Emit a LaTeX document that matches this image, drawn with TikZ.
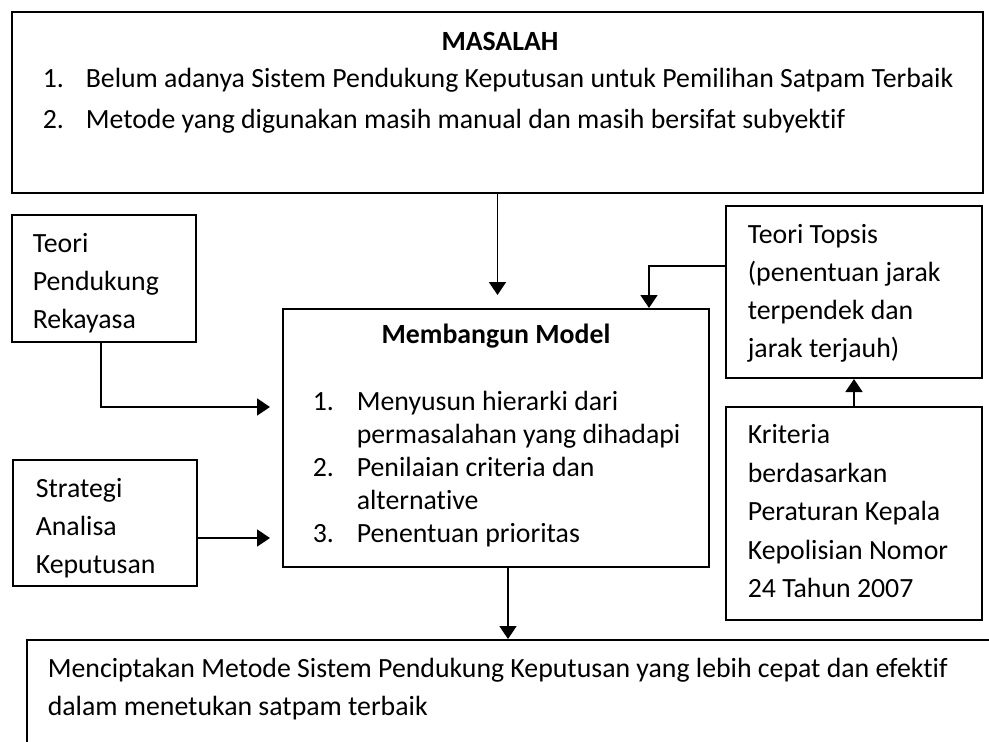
\documentclass[tikz,border=0pt]{standalone}
\usepackage{fontspec}
\setmainfont{Carlito}[Ligatures=NoCommon]
\usetikzlibrary{arrows.meta,calc}

\begin{document}
\begin{tikzpicture}[x=1pt,y=-1pt,>={Triangle[width=17pt,length=13pt]},line width=1.6pt,
    box/.style={draw,line width=2pt,inner sep=0pt},
    txt/.style={anchor=north west,inner sep=0pt,align=left,font=\fontsize{27.8}{#1}\selectfont},
    txt/.default=38,
    judul/.style={anchor=base,inner sep=0pt,font=\fontsize{27.8}{33}\selectfont\bfseries}]

    \useasboundingbox (0,0) rectangle (989,742);
    \clip (0,0) rectangle (989,742);

    \node[box, minimum width=971pt, minimum height=181pt] (masalah) at (497.5,102.5) {};
    \node[box, minimum width=184pt, minimum height=127pt] (teori) at (104,278.5) {};
    \node[box, minimum width=184pt, minimum height=126pt] (strategi) at (105,523) {};
    \node[box, minimum width=426pt, minimum height=258pt] (model) at (496,438) {};
    \node[box, minimum width=256pt, minimum height=172pt] (topsis) at (854,292) {};
    \node[box, minimum width=256pt, minimum height=213pt] (kriteria) at (854,513.5) {};
    \node[box, minimum width=983pt, minimum height=130pt] (hasil) at (518.5,705) {};

    \node[judul] (masalah-judul) at (500,50) {MASALAH};
    \node[txt=41] (masalah-no) at (42,58.3) {\strut 1.\\2.};
    \node[txt=41] (masalah-isi) at (85,58.3) {\strut Belum adanya Sistem Pendukung Keputusan untuk Pemilihan Satpam Terbaik\\Metode yang digunakan masih manual dan masih bersifat subyektif};

    \node[txt] (teori-isi) at (32,225.4) {\strut Teori\\Pendukung\\Rekayasa};
    \node[txt] (strategi-isi) at (35,470.4) {\strut Strategi\\Analisa\\Keputusan};

    \node[judul] (model-judul) at (496,343) {Membangun Model};
    \node[txt=33] (model-no) at (312,386.9) {\strut 1.\\ \\2.\\ \\3.};
    \node[txt=33] (model-isi) at (356,386.9) {\strut Menyusun hierarki dari\\permasalahan yang dihadapi\\Penilaian criteria dan\\alternative\\Penentuan prioritas};

    \node[txt] (topsis-isi) at (747,216.4) {\strut Teori Topsis\\(penentuan jarak\\terpendek dan\\jarak terjauh)};
    \node[txt=38.5] (kriteria-isi) at (747,416) {\strut Kriteria\\berdasarkan\\Peraturan Kepala\\Kepolisian Nomor\\24 Tahun 2007};

    \node[txt] (hasil-isi) at (47,650.4) {\strut Menciptakan Metode Sistem Pendukung Keputusan yang lebih cepat dan efektif\\dalam menetukan satpam terbaik};

    \draw[->,shorten >=13pt] (masalah.south) -- (masalah.south |- model.north);
    \draw[->] ([yshift=26pt]topsis.west) -| ([xshift=153pt]model.north);
    \draw[->] (kriteria.north) -- (topsis.south);
    \draw[->,shorten >=12pt] ([xshift=-3pt]teori.south) |- ([yshift=31pt]model.west);
    \draw[->,shorten >=12pt] ([yshift=-15pt]strategi.east) -- ([yshift=-15pt]strategi.east -| model.west);
    \draw[->] ([xshift=12pt]model.south) -- ([xshift=12pt]model.south |- hasil.north);

\end{tikzpicture}
\end{document}
